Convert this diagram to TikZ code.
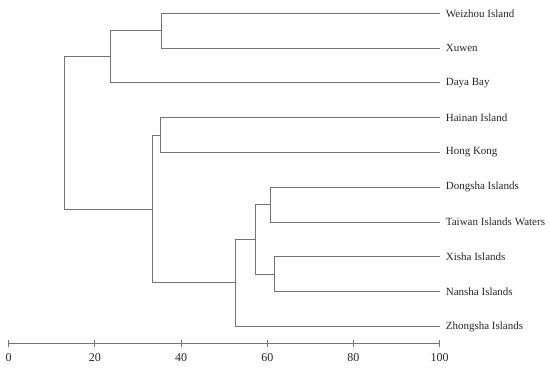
\documentclass[tikz,border=0pt]{standalone}
\usepackage{fontspec}
\setmainfont{Liberation Serif}
\usetikzlibrary{positioning}

\tikzset{
	branch/.style={draw=black!55, line width=1pt},
	leaf/.style={anchor=west, inner sep=6pt, text=black!85, font=\fontsize{11}{13}\selectfont},
	ticklabel/.style={anchor=center, text=black!85, font=\fontsize{12}{14}\selectfont}
}

\begin{document}
\begin{tikzpicture}[x=4.31pt, y=-34.8pt]
	% Frame of the picture:
	\useasboundingbox (-2.02, -0.382) rectangle (125.6, 10.19);
	% Leaves:
	\node[leaf] (wz) at (100, 0){Weizhou Island};
	\node[leaf] (xw) at (100, 1){Xuwen};
	\node[leaf] (dy) at (100, 2){Daya Bay};
	\node[leaf] (hn) at (100, 3){Hainan Island};
	\node[leaf] (hk) at (100, 4){Hong Kong};
	\node[leaf] (ds) at (100, 5){Dongsha Islands};
	\node[leaf] (tw) at (100, 6){Taiwan Islands Waters};
	\node[leaf] (xs) at (100, 7){Xisha Islands};
	\node[leaf] (ns) at (100, 8){Nansha Islands};
	\node[leaf] (zs) at (100, 9){Zhongsha Islands};
	% Joins:
	\coordinate (wzxw) at (35.4, 0.5);
	\coordinate (wzxwdy) at (23.7, 1.25);
	\coordinate (hnhk) at (35.3, 3.5);
	\coordinate (dstw) at (60.7, 5.5);
	\coordinate (xsns) at (61.6, 7.5);
	\coordinate (dsxs) at (57.2, 6.5);
	\coordinate (dszs) at (52.7, 7.75);
	\coordinate (hnzs) at (33.4, 5.625);
	\coordinate (root) at (12.9, 3.4375);
	% Branches:
	\draw[branch] (wzxw) |- (wz.west);
	\draw[branch] (wzxw) |- (xw.west);
	\draw[branch] (wzxwdy) |- (wzxw);
	\draw[branch] (wzxwdy) |- (dy.west);
	\draw[branch] (hnhk) |- (hn.west);
	\draw[branch] (hnhk) |- (hk.west);
	\draw[branch] (dstw) |- (ds.west);
	\draw[branch] (dstw) |- (tw.west);
	\draw[branch] (xsns) |- (xs.west);
	\draw[branch] (xsns) |- (ns.west);
	\draw[branch] (dsxs) |- (dstw);
	\draw[branch] (dsxs) |- (xsns);
	\draw[branch] (dszs) |- (dsxs);
	\draw[branch] (dszs) |- (zs.west);
	\draw[branch] (hnzs) |- (hnhk);
	\draw[branch] (hnzs) |- (dszs);
	\draw[branch] (root) |- (wzxwdy);
	\draw[branch] (root) |- (hnzs);
	% Scale:
	\coordinate (ax0) at (0, 9.49);
	\coordinate (ax1) at (100, 9.49);
	\draw[branch] (ax0) -- (ax1);
	\foreach \v in {0, 20, ..., 100} {
		\draw[branch] (\v, 9.40) -- (\v, 9.58);
		\node[ticklabel] (t\v) at (\v, 9.88){\v};
	}
\end{tikzpicture}
\end{document}
